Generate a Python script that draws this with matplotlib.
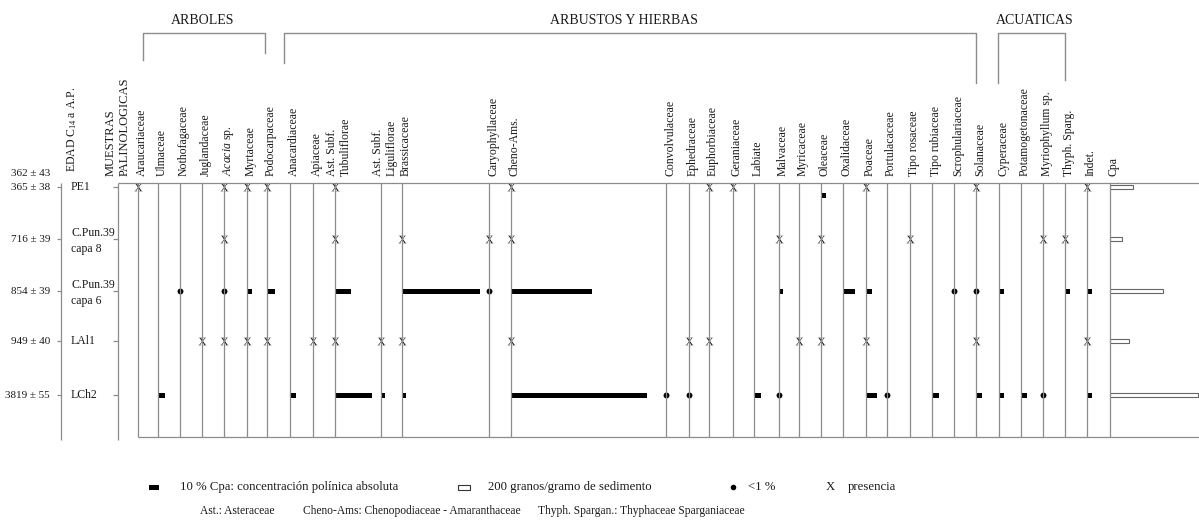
import numpy as np
import matplotlib
matplotlib.use("Agg")
import matplotlib.pyplot as plt

plt.rcParams["font.family"] = ["Liberation Serif", "DejaVu Serif"]
plt.rcParams["mathtext.fontset"] = "custom"
plt.rcParams["mathtext.rm"] = "Liberation Serif"
plt.rcParams["mathtext.it"] = "Liberation Serif:italic"

# ---------------- data ----------------
taxa = [
    "Araucariaceae", "Ulmaceae", "Nothofagaceae", "Juglandaceae",
    r"$\mathit{Acacia}$ sp.", "Myrtaceae", "Podocarpaceae",
    "Anacardiaceae", "Apiaceae", "Ast. Subf.\nTubuliflorae",
    "Ast. Subf.\nLiguliflorae", "Brassicaceae", "Caryophyllaceae",
    "Cheno-Ams.", "Convolvulaceae", "Ephedraceae", "Euphorbiaceae",
    "Geraniaceae", "Labiate", "Malvaceae", "Myricaceae", "Oleaceae",
    "Oxalidaceae", "Poaceae", "Portulacaceae", "Tipo rosaceae",
    "Tipo rubiaceae", "Scrophulariaceae", "Solanaceae",
    "Cyperaceae", "Potamogetonaceae", "Myriophyllum sp.", "Thyph. Sparg.",
    "Indet.",
]

ages = ["365 ± 38", "716 ± 39", "854 ± 39", "949 ± 40", "3819 ± 55"]
samples = ["PE1", "C.Pun.39\ncapa 8", "C.Pun.39\ncapa 6", "LAl1", "LCh2"]

# 'x' = presencia, 'o' = <1 %, number = % of Cpa, '' = nothing
# order follows taxa: arboles (0-6) | arbustos y hierbas (7-28) | acuaticas (29-32) | indet
pe1 = ["x", "", "", "", "x", "x", "x",
       "", "", "x", "", "", "", "x", "", "", "x", "x", "", "", "", 2.2,
       "", "x", "", "", "", "", "x",
       "", "", "", "",
       "x"]
capa8 = ["", "", "", "", "x", "", "",
         "", "", "x", "", "x", "x", "x", "", "", "", "", "", "x", "", "x",
         "", "", "", "x", "", "", "",
         "", "", "x", "x",
         ""]
capa6 = ["", "", "o", "", "o", 2.2, 3.5,
         "", "", 7, "", 34, "o", 35, "", "", "", "", "", 1.7, "", "",
         5.2, 2.6, "", "", "", "o", "o",
         2.2, "", "", 2.2,
         2.2]
lal1 = ["", "", "", "x", "x", "x", "x",
        "", "x", "x", "x", "x", "", "x", "", "x", "x", "", "", "", "x", "x",
        "", "x", "", "", "", "", "x",
        "", "", "", "",
        "x"]
lch2 = ["", 3, "", "", "", "", "",
        2.6, "", 16, 1.7, 1.7, "", 59, "o", "o", "", "", 3, "o", "", "",
        "", 4.8, "o", "", 3, "", 2.6,
        2.2, 2.6, "o", "",
        2.2]
counts = [pe1, capa8, capa6, lal1, lch2]

cpa = [380, 200, 880, 320, 1470]   # granos/gramo de sedimento

groups = ["ARBOLES", "ARBUSTOS Y HIERBAS", "ACUATICAS"]

# ---------------- layout (pixels) ----------------
col_x = [138, 158, 180, 202, 224, 247, 267, 290, 313, 335, 381, 402, 489,
         511, 666, 689, 709, 733, 754, 779, 799, 821, 843, 866, 887, 910,
         932, 954, 976, 999, 1021, 1043, 1065, 1087]
cpa_x = 1110
row_y = [187, 239, 291, 341, 395]
bar_dy = [8, 0, 0, 0, 0]
top, bottom = 183, 437
px_per_pct = 2.3
px_per_grano = 0.06
group_span = [(143, 265, 60, 53), (284, 976, 63, 83), (998, 1065, 83, 80)]
group_label_x = [203, 624, 1035]

line_c = "#8c8c8c"
ink = "#1a1a1a"

fig = plt.figure(figsize=(11.99, 5.25), dpi=100)
ax = fig.add_axes([0, 0, 1, 1])
ax.set_xlim(0, 1199)
ax.set_ylim(525, 0)
ax.axis("off")

# frame lines
ax.vlines(col_x + [cpa_x], top, bottom, color=line_c, lw=0.9)
ax.hlines(top, 118, 1199, color=line_c, lw=0.9)
ax.hlines(bottom, 138, 1199, color=line_c, lw=0.9)
ax.vlines([61, 118], top, bottom + 3, color=line_c, lw=0.9)
ax.hlines(row_y, 57, 61, color=line_c, lw=0.9)
ax.hlines(row_y, 113, 118, color=line_c, lw=0.9)

# headers
for x, name in zip(col_x, taxa):
    ax.text(x + 4, 176, name, rotation=90, ha="center", va="bottom",
            fontsize=8.5, color=ink, multialignment="left")
ax.text(cpa_x + 4, 176, "Cpa", rotation=90, ha="center", va="bottom",
        fontsize=8.5, color=ink)
ax.text(72, 172, r"EDAD C$_{14}$ a A.P.", rotation=90, ha="center",
        va="bottom", fontsize=8.5, color=ink)
ax.text(118, 176, "MUESTRAS\nPALINOLOGICAS", rotation=90, ha="center",
        va="bottom", fontsize=9, color=ink, multialignment="left")

for name, lx, (x0, x1, l0, l1) in zip(groups, group_label_x, group_span):
    ax.plot([x0, x0, x1, x1], [l0, 33, 33, l1], color=line_c, lw=1)
    ax.text(lx, 21, name, ha="center", va="center", fontsize=10, color=ink)

# sample / age labels
ax.text(50, 173, "362 ± 43", ha="right", va="center", fontsize=8, color=ink)
for y, a, s in zip(row_y, ages, samples):
    ax.text(50, y, a, ha="right", va="center", fontsize=8, color=ink)
    ax.text(71, y + (0 if "\n" not in s else 2), s, ha="left", va="center",
            fontsize=8.5, color=ink, linespacing=1.5)

# marks
for y, dy, row in zip(row_y, bar_dy, counts):
    xs_x = [x for x, v in zip(col_x, row) if v == "x"]
    xs_o = [x for x, v in zip(col_x, row) if v == "o"]
    bars = [(x, v) for x, v in zip(col_x, row) if not isinstance(v, str)]
    ax.scatter(xs_x, [y] * len(xs_x), marker=r"$\mathrm{X}$", s=32,
               color=ink, linewidths=0)
    ax.scatter(xs_o, [y] * len(xs_o), marker="o", s=18, color="black",
               linewidths=0)
    if bars:
        bx, bv = zip(*bars)
        ax.barh([y + dy] * len(bx), np.array(bv) * px_per_pct, left=bx,
                height=5, color="black")

ax.barh(row_y, np.array(cpa) * px_per_grano, left=cpa_x, height=4,
        facecolor="white", edgecolor="#666666", lw=0.8)

# legend
ly1, ly2 = 487, 511
ax.barh(ly1, 10, left=149, height=5, color="black")
ax.text(180, ly1, "10 % Cpa: concentración polínica absoluta", va="center",
        fontsize=9.2, color=ink)
ax.barh(ly1, 12, left=458, height=5, facecolor="white",
        edgecolor="#333333", lw=0.8)
ax.text(488, ly1, "200 granos/gramo de sedimento", va="center",
        fontsize=9.2, color=ink)
ax.scatter([733], [ly1], marker="o", s=16, color="black", linewidths=0)
ax.text(748, ly1, "<1 %", va="center", fontsize=9.2, color=ink)
ax.text(826, ly1, "X", va="center", fontsize=9.2, color=ink)
ax.text(848, ly1, "presencia", va="center", fontsize=9.2, color=ink)
ax.text(200, ly2, "Ast.: Asteraceae", va="center", fontsize=8.3, color=ink)
ax.text(303, ly2, "Cheno-Ams: Chenopodiaceae - Amaranthaceae", va="center",
        fontsize=8.3, color=ink)
ax.text(538, ly2, "Thyph. Spargan.: Thyphaceae Sparganiaceae", va="center",
        fontsize=8.3, color=ink)

fig.savefig("out.png", dpi=100)
